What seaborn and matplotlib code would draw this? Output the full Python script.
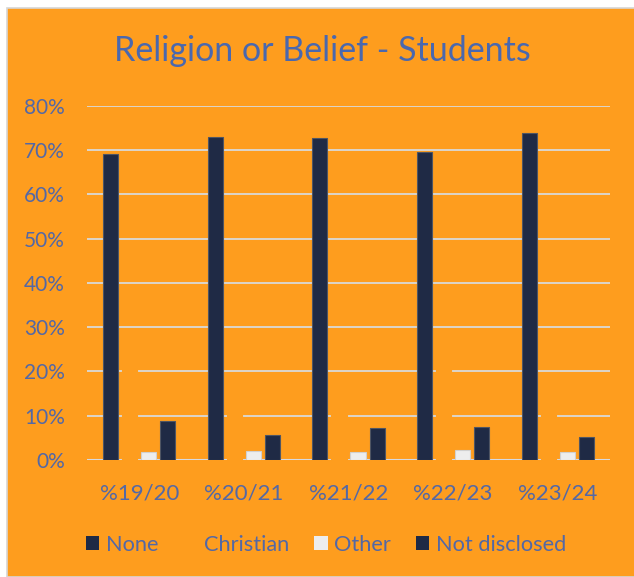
import matplotlib
matplotlib.use("Agg")
import matplotlib.pyplot as plt
from matplotlib.patches import Rectangle, Patch
from matplotlib.ticker import PercentFormatter
import pandas as pd
import seaborn as sns

# Share of students by religion or belief, per academic year
years = ["%19/20", "%20/21", "%21/22", "%22/23", "%23/24"]
none = [69.0, 72.9, 72.6, 69.6, 73.8]
christian = [20.5, 19.4, 18.3, 20.7, 19.2]
other = [1.8, 2.0, 1.8, 2.3, 1.8]
not_disclosed = [8.7, 5.7, 7.3, 7.4, 5.2]
series = ["None", "Christian", "Other", "Not disclosed"]
yticks = [0, 10, 20, 30, 40, 50, 60, 70, 80]

ORANGE = "#FE9D1E"
NAVY = "#1F2A45"
LIGHT = "#EDEDED"
TEXT = "#5368A6"
TITLE = "#4A68AE"
GRID = "#D9D9D9"

df = pd.DataFrame({
    "year": years * 4,
    "series": [s for s in series for _ in years],
    "value": [v / 100 for v in none + christian + other + not_disclosed],
})

sns.set_theme(style="white")
plt.rcParams["font.family"] = ["Lato", "DejaVu Sans"]

fig = plt.figure(figsize=(6.34, 5.77), dpi=100, facecolor="white")
fig.patches.append(Rectangle((7 / 634, 0), 1, 1 - 8 / 577, transform=fig.transFigure,
                             facecolor=ORANGE, edgecolor="#D6D6D6", linewidth=1.2, zorder=-5))

ax = fig.add_axes([87 / 634, 1 - 460 / 577, (610 - 87) / 634, (460 - 105.7) / 577])
ax.set_facecolor("none")

palette = {"None": NAVY, "Christian": ORANGE, "Other": LIGHT, "Not disclosed": NAVY}
sns.barplot(data=df, x="year", y="value", hue="series", hue_order=series,
            palette=palette, width=0.727, gap=0.21, saturation=1,
            legend=False, ax=ax, zorder=3)

edges = {"None": "#4f5563", "Christian": ORANGE, "Other": "#d0d0d0", "Not disclosed": "#4f5563"}
for cont, name in zip(ax.containers, series):
    for bar in cont:
        bar.set_edgecolor(edges[name])
        bar.set_linewidth(0.8)

ax.set_ylim(0, 0.8)
ax.set_yticks([t / 100 for t in yticks])
ax.yaxis.set_major_formatter(PercentFormatter(1.0, decimals=0))
ax.set_axisbelow(True)
ax.grid(axis="y", color=GRID, linewidth=1.3, zorder=0)
ax.grid(axis="x", visible=False)
for s in ax.spines.values():
    s.set_visible(False)
ax.axhline(0, color="#D6D9E0", linewidth=1.5, zorder=2)
ax.set_xlabel("")
ax.set_ylabel("")
ax.tick_params(axis="y", length=0, pad=16, labelsize=15, labelcolor=TEXT)
ax.tick_params(axis="x", length=0, pad=17, labelsize=16, labelcolor=TEXT)

fig.text(0.508, 1 - 51 / 577, "Religion or Belief - Students", ha="center", va="center",
         fontsize=24.5, color=TITLE)

handles = [Patch(facecolor=palette[s], edgecolor="none") for s in series]
leg = fig.legend(handles, series, loc="center", bbox_to_anchor=(0.515, 1 - 545 / 577),
                 ncol=4, frameon=False, fontsize=15.7, handlelength=0.6, handleheight=0.6,
                 handletextpad=0.32, columnspacing=1.15)
for t in leg.get_texts():
    t.set_color(TEXT)

fig.savefig("out.png", dpi=100, facecolor="white")
